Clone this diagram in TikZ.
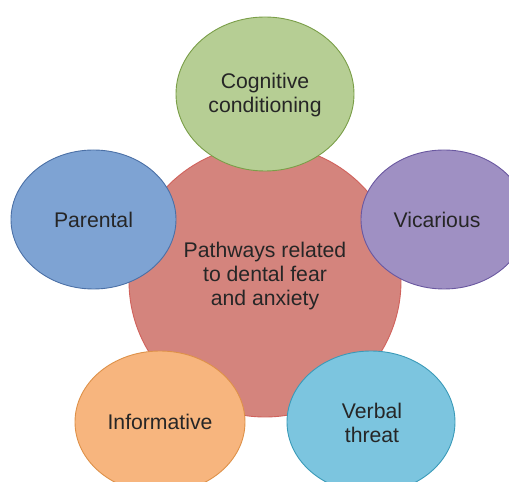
\documentclass[tikz,border=0pt]{standalone}
\usepackage{fontspec}
\setmainfont{Liberation Sans}
\usetikzlibrary{shapes.geometric}
\definecolor{cfill}{HTML}{D4847D}\definecolor{cline}{HTML}{D0625C}
\definecolor{gfill}{HTML}{B6CE94}\definecolor{gline}{HTML}{7A9E48}
\definecolor{bfill}{HTML}{7EA3D3}\definecolor{bline}{HTML}{4B70A6}
\definecolor{pfill}{HTML}{9F90C3}\definecolor{pline}{HTML}{6A58A0}
\definecolor{ofill}{HTML}{F7B57E}\definecolor{oline}{HTML}{DE9149}
\definecolor{tfill}{HTML}{7CC5DF}\definecolor{tline}{HTML}{3A9AB8}
\definecolor{txt}{HTML}{262626}
\tikzset{
  bubble/.style={ellipse, line width=0.9pt, text=txt, align=center,
    font=\fontsize{21.2}{24}\selectfont, inner sep=0pt},
  label text/.style={text=txt, align=center, font=\fontsize{21.2}{24}\selectfont},
}
\begin{document}
\begin{tikzpicture}[x=1pt,y=1pt]
\useasboundingbox (0,0) rectangle (509,482);
\begin{scope}
\clip (0,0) rectangle (509,482);
\node[bubble, circle, minimum size=272pt, fill=cfill, draw=cline] (center) at (265,201) {};
\node[label text] (ctext) at (265,206) {Pathways related\\to dental fear\\and anxiety};
\node[bubble, minimum width=178pt, minimum height=154pt, fill=gfill, draw=gline] (cog) at (265,388) {};
\node[label text] (cogt) at (265,387) {Cognitive\\conditioning};
\node[bubble, minimum width=165pt, minimum height=139pt, fill=bfill, draw=bline] (par) at (93.5,262.5) {Parental};
\node[bubble, minimum width=166pt, minimum height=139pt, fill=pfill, draw=pline] (vic) at (444,262.5) {};
\node[label text] (vict) at (437,262) {Vicarious};
\node[bubble, minimum width=170pt, minimum height=142pt, fill=ofill, draw=oline] (inf) at (160,60) {Informative};
\node[bubble, minimum width=168pt, minimum height=142pt, fill=tfill, draw=tline] (verb) at (371,60) {};
\node[label text] (verbt) at (372,59) {Verbal\\threat};
\end{scope}
\end{tikzpicture}
\end{document}
